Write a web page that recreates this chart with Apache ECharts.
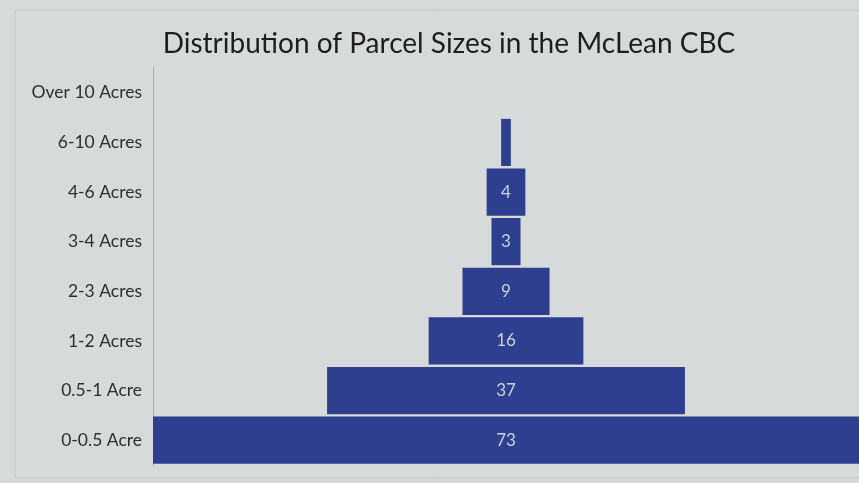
<!DOCTYPE html>
<html>
<head>
<meta charset="utf-8">
<script src="https://cdn.jsdelivr.net/npm/echarts@6/dist/echarts.min.js"></script>
<style>
  html, body { margin: 0; padding: 0; background: #d7dadb; }
  #chart { width: 859px; height: 483px; }
</style>
</head>
<body>
<div id="chart"></div>
<script>
// Parcel size classes, bottom to top
var categories = ['0-0.5 Acre', '0.5-1 Acre', '1-2 Acres', '2-3 Acres', '3-4 Acres', '4-6 Acres', '6-10 Acres', 'Over 10 Acres'];
var parcelCounts = [73, 37, 16, 9, 3, 4, 1, 0];

var maxCount = Math.max.apply(null, parcelCounts);

// invisible spacer so each bar sits centred
var spacer = parcelCounts.map(function (v) {
  return (maxCount - v) / 2;
});

var myChart = echarts.init(document.getElementById('chart'));

var option = {
  backgroundColor: '#d7dadb',
  textStyle: { fontFamily: 'Lato, "Open Sans", sans-serif' },
  title: {
    text: 'Distribution of Parcel Sizes in the McLean CBC',
    left: 444,
    textAlign: 'center',
    top: 25,
    textStyle: {
      fontFamily: 'Lato, "Open Sans", sans-serif',
      fontSize: 28,
      fontWeight: 'normal',
      color: '#1e1e1e'
    }
  },
  graphic: [
    {
      type: 'rect',
      shape: { x: 15, y: 10, width: 860, height: 468 },
      style: { fill: 'none', stroke: '#c4c7c8', lineWidth: 1 }
    }
  ],
  grid: {
    left: 153,
    top: 68,
    width: 716,
    height: 397,
    containLabel: false
  },
  xAxis: {
    type: 'value',
    min: 0,
    max: maxCount,
    show: false
  },
  yAxis: {
    type: 'category',
    data: categories,
    axisLine: { show: true, lineStyle: { color: '#a9acae', width: 1 } },
    axisTick: { show: false },
    axisLabel: {
      color: '#2e2e2e',
      fontSize: 17.5,
      margin: 11,
      fontFamily: 'Lato, "Open Sans", sans-serif'
    }
  },
  series: [
    {
      type: 'bar',
      stack: 'funnel',
      data: spacer,
      itemStyle: { color: 'transparent' },
      silent: true,
      barCategoryGap: '5%'
    },
    {
      type: 'bar',
      stack: 'funnel',
      data: parcelCounts,
      barCategoryGap: '5%',
      itemStyle: { color: '#2d3f8e' },
      label: {
        show: true,
        position: 'inside',
        color: '#cdd1e2',
        fontSize: 17,
        formatter: function (p) {
          return p.value >= 2 ? p.value : '';
        }
      }
    }
  ]
};

myChart.setOption(option);
</script>
</body>
</html>
